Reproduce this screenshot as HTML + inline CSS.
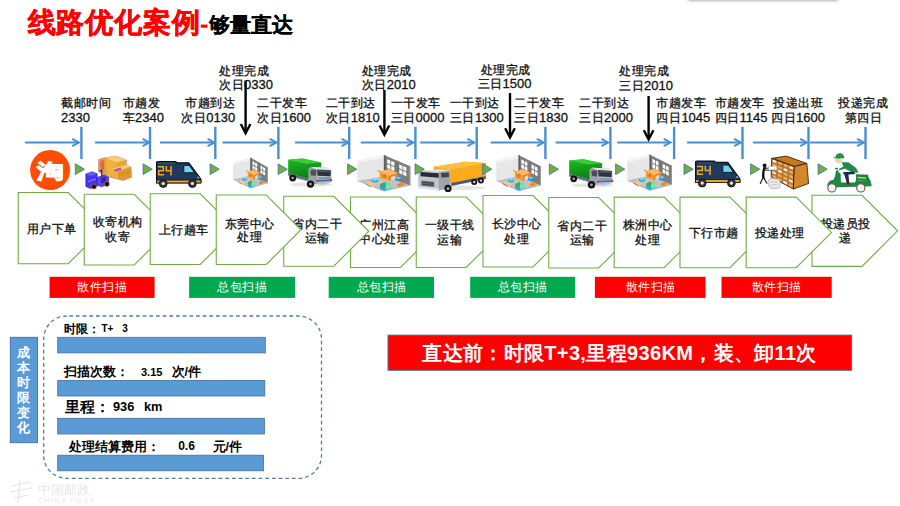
<!DOCTYPE html>
<html><head><meta charset="utf-8"><style>
html,body{margin:0;padding:0;background:#fff;}
body{width:900px;height:506px;position:relative;overflow:hidden;font-family:"Liberation Sans", sans-serif;}
.t1{position:absolute;left:27px;top:3px;font-size:28px;font-weight:bold;color:#ff0000;white-space:nowrap;line-height:40px;}
.t1 span{font-size:22px;color:#000;}
.t1 b{color:#ff0000;font-size:22px;}
.shadow{position:absolute;left:688px;top:-12px;width:150px;height:12px;box-shadow:0 0.5px 3px rgba(0,0,0,0.4);background:#fff;}
svg{position:absolute;left:0;top:0;}
svg text{font-family:"Liberation Sans", sans-serif;}
</style></head><body>
<div class="shadow"></div>
<svg width="900" height="506" viewBox="0 0 900 506">
<text x="27.6" y="32" letter-spacing="0.9" font-size="28.4" font-weight="bold" fill="#ff0000" stroke="#ff0000" stroke-width="0.5">线路优化案例</text><rect x="200.8" y="24.6" width="6.7" height="3.1" fill="#ff0000"/><text x="209" y="32" font-size="21.3" font-weight="bold" fill="#000" stroke="#000" stroke-width="0.2">够量直达</text><line x1="25" y1="142.5" x2="78.5" y2="142.5" stroke="#4a8fd0" stroke-width="1.9"/><path d="M72.1,138.8 L79,142.5 L72.1,146.2" fill="none" stroke="#4a8fd0" stroke-width="1.9" stroke-linejoin="miter"/><line x1="95" y1="142.5" x2="149.0" y2="142.5" stroke="#4a8fd0" stroke-width="1.9"/><path d="M142.6,138.8 L149.5,142.5 L142.6,146.2" fill="none" stroke="#4a8fd0" stroke-width="1.9" stroke-linejoin="miter"/><line x1="160" y1="142.5" x2="214.0" y2="142.5" stroke="#4a8fd0" stroke-width="1.9"/><path d="M207.6,138.8 L214.5,142.5 L207.6,146.2" fill="none" stroke="#4a8fd0" stroke-width="1.9" stroke-linejoin="miter"/><line x1="222.5" y1="142.5" x2="276.0" y2="142.5" stroke="#4a8fd0" stroke-width="1.9"/><path d="M269.6,138.8 L276.5,142.5 L269.6,146.2" fill="none" stroke="#4a8fd0" stroke-width="1.9" stroke-linejoin="miter"/><line x1="295" y1="142.5" x2="348.0" y2="142.5" stroke="#4a8fd0" stroke-width="1.9"/><path d="M341.6,138.8 L348.5,142.5 L341.6,146.2" fill="none" stroke="#4a8fd0" stroke-width="1.9" stroke-linejoin="miter"/><line x1="360.8" y1="142.5" x2="413.0" y2="142.5" stroke="#4a8fd0" stroke-width="1.9"/><path d="M406.6,138.8 L413.5,142.5 L406.6,146.2" fill="none" stroke="#4a8fd0" stroke-width="1.9" stroke-linejoin="miter"/><line x1="420.2" y1="142.5" x2="473.8" y2="142.5" stroke="#4a8fd0" stroke-width="1.9"/><path d="M467.40000000000003,138.8 L474.3,142.5 L467.40000000000003,146.2" fill="none" stroke="#4a8fd0" stroke-width="1.9" stroke-linejoin="miter"/><line x1="490.6" y1="142.5" x2="543.3" y2="142.5" stroke="#4a8fd0" stroke-width="1.9"/><path d="M536.9,138.8 L543.8,142.5 L536.9,146.2" fill="none" stroke="#4a8fd0" stroke-width="1.9" stroke-linejoin="miter"/><line x1="555.6" y1="142.5" x2="607.8" y2="142.5" stroke="#4a8fd0" stroke-width="1.9"/><path d="M601.4,138.8 L608.3,142.5 L601.4,146.2" fill="none" stroke="#4a8fd0" stroke-width="1.9" stroke-linejoin="miter"/><line x1="617.3" y1="142.5" x2="670.1" y2="142.5" stroke="#4a8fd0" stroke-width="1.9"/><path d="M663.7,138.8 L670.6,142.5 L663.7,146.2" fill="none" stroke="#4a8fd0" stroke-width="1.9" stroke-linejoin="miter"/><line x1="687" y1="142.5" x2="740.5" y2="142.5" stroke="#4a8fd0" stroke-width="1.9"/><path d="M734.1,138.8 L741,142.5 L734.1,146.2" fill="none" stroke="#4a8fd0" stroke-width="1.9" stroke-linejoin="miter"/><line x1="753" y1="142.5" x2="806.5" y2="142.5" stroke="#4a8fd0" stroke-width="1.9"/><path d="M800.1,138.8 L807,142.5 L800.1,146.2" fill="none" stroke="#4a8fd0" stroke-width="1.9" stroke-linejoin="miter"/><line x1="810" y1="142.5" x2="863.5" y2="142.5" stroke="#4a8fd0" stroke-width="1.9"/><path d="M857.1,138.8 L864,142.5 L857.1,146.2" fill="none" stroke="#4a8fd0" stroke-width="1.9" stroke-linejoin="miter"/><line x1="81.4" y1="126.8" x2="81.4" y2="159.1" stroke="#4a8fd0" stroke-width="2.4"/><line x1="150" y1="126.8" x2="150" y2="159.1" stroke="#4a8fd0" stroke-width="2.4"/><line x1="215.3" y1="126.8" x2="215.3" y2="159.1" stroke="#4a8fd0" stroke-width="2.4"/><line x1="278.4" y1="126.8" x2="278.4" y2="159.1" stroke="#4a8fd0" stroke-width="2.4"/><line x1="349.2" y1="126.8" x2="349.2" y2="159.1" stroke="#4a8fd0" stroke-width="2.4"/><line x1="415.4" y1="126.8" x2="415.4" y2="159.1" stroke="#4a8fd0" stroke-width="2.4"/><line x1="476.7" y1="126.8" x2="476.7" y2="159.1" stroke="#4a8fd0" stroke-width="2.4"/><line x1="545.4" y1="126.8" x2="545.4" y2="159.1" stroke="#4a8fd0" stroke-width="2.4"/><line x1="610.4" y1="126.8" x2="610.4" y2="159.1" stroke="#4a8fd0" stroke-width="2.4"/><line x1="674.1" y1="126.8" x2="674.1" y2="159.1" stroke="#4a8fd0" stroke-width="2.4"/><line x1="742.5" y1="126.8" x2="742.5" y2="159.1" stroke="#4a8fd0" stroke-width="2.4"/><line x1="808.5" y1="126.8" x2="808.5" y2="159.1" stroke="#4a8fd0" stroke-width="2.4"/><line x1="865.5" y1="126.8" x2="865.5" y2="159.1" stroke="#4a8fd0" stroke-width="2.4"/><line x1="245.6" y1="80.5" x2="245.6" y2="132.2" stroke="#000" stroke-width="2.4"/><path d="M240.79999999999998,123.99999999999999 L245.6,133.2 L250.4,123.99999999999999" fill="none" stroke="#000" stroke-width="2.4"/><line x1="384.4" y1="90" x2="384.4" y2="133.7" stroke="#000" stroke-width="2.4"/><path d="M379.59999999999997,125.49999999999999 L384.4,134.7 L389.2,125.49999999999999" fill="none" stroke="#000" stroke-width="2.4"/><line x1="510" y1="93" x2="510" y2="136.5" stroke="#000" stroke-width="2.4"/><path d="M505.2,128.3 L510,137.5 L514.8,128.3" fill="none" stroke="#000" stroke-width="2.4"/><line x1="648.6" y1="96" x2="648.6" y2="138.5" stroke="#000" stroke-width="2.4"/><path d="M643.8000000000001,130.3 L648.6,139.5 L653.4,130.3" fill="none" stroke="#000" stroke-width="2.4"/><text x="61" y="107.4" text-anchor="start" fill="#111" stroke="#111" stroke-width="0.3" font-weight="normal"><tspan font-size="12" letter-spacing="0.5">截邮时间</tspan></text><text x="61" y="121.9" text-anchor="start" fill="#111" stroke="#111" stroke-width="0.3" font-weight="normal"><tspan font-size="13">2330</tspan></text><text x="122.6" y="107.4" text-anchor="start" fill="#111" stroke="#111" stroke-width="0.3" font-weight="normal"><tspan font-size="12" letter-spacing="0.5">市趟发</tspan></text><text x="122.6" y="121.9" text-anchor="start" fill="#111" stroke="#111" stroke-width="0.3" font-weight="normal"><tspan font-size="12" letter-spacing="0.5">车</tspan><tspan font-size="13">2340</tspan></text><text x="185" y="107.4" text-anchor="start" fill="#111" stroke="#111" stroke-width="0.3" font-weight="normal"><tspan font-size="12" letter-spacing="0.5">市趟到达</tspan></text><text x="181.3" y="121.9" text-anchor="start" fill="#111" stroke="#111" stroke-width="0.3" font-weight="normal"><tspan font-size="12" letter-spacing="0.5">次日</tspan><tspan font-size="13">0130</tspan></text><text x="219.1" y="74.9" text-anchor="start" fill="#111" stroke="#111" stroke-width="0.3" font-weight="normal"><tspan font-size="12" letter-spacing="0.5">处理完成</tspan></text><text x="219.1" y="89.2" text-anchor="start" fill="#111" stroke="#111" stroke-width="0.3" font-weight="normal"><tspan font-size="12" letter-spacing="0.5">次日</tspan><tspan font-size="13">0330</tspan></text><text x="257" y="107.4" text-anchor="start" fill="#111" stroke="#111" stroke-width="0.3" font-weight="normal"><tspan font-size="12" letter-spacing="0.5">二干发车</tspan></text><text x="257" y="121.9" text-anchor="start" fill="#111" stroke="#111" stroke-width="0.3" font-weight="normal"><tspan font-size="12" letter-spacing="0.5">次日</tspan><tspan font-size="13">1600</tspan></text><text x="325.7" y="107.4" text-anchor="start" fill="#111" stroke="#111" stroke-width="0.3" font-weight="normal"><tspan font-size="12" letter-spacing="0.5">二干到达</tspan></text><text x="325.7" y="121.9" text-anchor="start" fill="#111" stroke="#111" stroke-width="0.3" font-weight="normal"><tspan font-size="12" letter-spacing="0.5">次日</tspan><tspan font-size="13">1810</tspan></text><text x="361.7" y="75.2" text-anchor="start" fill="#111" stroke="#111" stroke-width="0.3" font-weight="normal"><tspan font-size="12" letter-spacing="0.5">处理完成</tspan></text><text x="361.7" y="89.4" text-anchor="start" fill="#111" stroke="#111" stroke-width="0.3" font-weight="normal"><tspan font-size="12" letter-spacing="0.5">次日</tspan><tspan font-size="13">2010</tspan></text><text x="390.5" y="107.4" text-anchor="start" fill="#111" stroke="#111" stroke-width="0.3" font-weight="normal"><tspan font-size="12" letter-spacing="0.5">一干发车</tspan></text><text x="390.5" y="121.9" text-anchor="start" fill="#111" stroke="#111" stroke-width="0.3" font-weight="normal"><tspan font-size="12" letter-spacing="0.5">三日</tspan><tspan font-size="13">0000</tspan></text><text x="449.9" y="107.4" text-anchor="start" fill="#111" stroke="#111" stroke-width="0.3" font-weight="normal"><tspan font-size="12" letter-spacing="0.5">一干到达</tspan></text><text x="449.9" y="121.9" text-anchor="start" fill="#111" stroke="#111" stroke-width="0.3" font-weight="normal"><tspan font-size="12" letter-spacing="0.5">三日</tspan><tspan font-size="13">1300</tspan></text><text x="480.9" y="74.4" text-anchor="start" fill="#111" stroke="#111" stroke-width="0.3" font-weight="normal"><tspan font-size="12" letter-spacing="0.5">处理完成</tspan></text><text x="477.6" y="88.30000000000001" text-anchor="start" fill="#111" stroke="#111" stroke-width="0.3" font-weight="normal"><tspan font-size="12" letter-spacing="0.5">三日</tspan><tspan font-size="13">1500</tspan></text><text x="514" y="107.4" text-anchor="start" fill="#111" stroke="#111" stroke-width="0.3" font-weight="normal"><tspan font-size="12" letter-spacing="0.5">二干发车</tspan></text><text x="514" y="121.9" text-anchor="start" fill="#111" stroke="#111" stroke-width="0.3" font-weight="normal"><tspan font-size="12" letter-spacing="0.5">三日</tspan><tspan font-size="13">1830</tspan></text><text x="579" y="107.4" text-anchor="start" fill="#111" stroke="#111" stroke-width="0.3" font-weight="normal"><tspan font-size="12" letter-spacing="0.5">二干到达</tspan></text><text x="579" y="121.9" text-anchor="start" fill="#111" stroke="#111" stroke-width="0.3" font-weight="normal"><tspan font-size="12" letter-spacing="0.5">三日</tspan><tspan font-size="13">2000</tspan></text><text x="619.1" y="74.9" text-anchor="start" fill="#111" stroke="#111" stroke-width="0.3" font-weight="normal"><tspan font-size="12" letter-spacing="0.5">处理完成</tspan></text><text x="619.1" y="89.9" text-anchor="start" fill="#111" stroke="#111" stroke-width="0.3" font-weight="normal"><tspan font-size="12" letter-spacing="0.5">三日</tspan><tspan font-size="13">2010</tspan></text><text x="656.4" y="107.4" text-anchor="start" fill="#111" stroke="#111" stroke-width="0.3" font-weight="normal"><tspan font-size="12" letter-spacing="0.5">市趟发车</tspan></text><text x="656.4" y="121.9" text-anchor="start" fill="#111" stroke="#111" stroke-width="0.3" font-weight="normal"><tspan font-size="12" letter-spacing="0.5">四日</tspan><tspan font-size="13">1045</tspan></text><text x="714.6" y="107.4" text-anchor="start" fill="#111" stroke="#111" stroke-width="0.3" font-weight="normal"><tspan font-size="12" letter-spacing="0.5">市趟发车</tspan></text><text x="714.6" y="121.9" text-anchor="start" fill="#111" stroke="#111" stroke-width="0.3" font-weight="normal"><tspan font-size="12" letter-spacing="0.5">四日</tspan><tspan font-size="13">1145</tspan></text><text x="773.4" y="107.4" text-anchor="start" fill="#111" stroke="#111" stroke-width="0.3" font-weight="normal"><tspan font-size="12" letter-spacing="0.5">投递出班</tspan></text><text x="771" y="121.9" text-anchor="start" fill="#111" stroke="#111" stroke-width="0.3" font-weight="normal"><tspan font-size="12" letter-spacing="0.5">四日</tspan><tspan font-size="13">1600</tspan></text><text x="838" y="107.4" text-anchor="start" fill="#111" stroke="#111" stroke-width="0.3" font-weight="normal"><tspan font-size="12" letter-spacing="0.5">投递完成</tspan></text><text x="844.5" y="121.9" text-anchor="start" fill="#111" stroke="#111" stroke-width="0.3" font-weight="normal"><tspan font-size="12" letter-spacing="0.5">第四日</tspan></text><g>
<path d="M98.6,159.5 L105.7,157.5 L116,156.3 L126.3,159.9 L126.3,165 L131,167 L131.4,177.3 L123.1,180.5 L107.3,176.5 L98.6,171.8 Z" fill="#eeb23c" stroke="#a070e0" stroke-width="0.6"/>
<path d="M105.7,157.5 L116,156.3 L126.3,159.9 L116.5,162.5 Z" fill="#f8cf70"/>
<path d="M116.5,162.5 L126.3,159.9 L126.3,165 L116.5,168Z" fill="#e8a633"/>
<path d="M112,168.8 L126.3,165 L131,167 L118,171 Z" fill="#f8cf70"/>
<path d="M118,171 L131,167 L131.4,177.3 L123.1,180.5 L118,178.8Z" fill="#dd9a2a"/>
<path d="M118,174.5 L131.2,171.5" stroke="#c08020" stroke-width="0.6"/>
<path d="M98.6,159.5 L105.7,157.5 L107.3,176.5 L98.6,171.8Z" fill="#e9a038"/>
<path d="M100.3,161 L104,160 L104.5,170 L100.6,168.5Z" fill="#e06a40"/>
<path d="M114.5,169.2 L121,167.5 L121,170 L114.5,171.8Z" fill="#cc40cc"/>
<path d="M85.8,174 L92,171.8 L97.2,173.8 L97.2,186.2 L90.5,188.6 L85.8,186.4 Z" fill="#4736ee" stroke="#2a1aa8" stroke-width="0.6"/>
<path d="M85.8,174 L92,171.8 L97.2,173.8 L91,176Z" fill="#6b5cf8"/>
<path d="M97.2,177.5 L104,175 L108.6,177.3 L108.6,184 L101.5,186.8 L97.2,185.2 Z" fill="#5646f2" stroke="#2a1aa8" stroke-width="0.6"/>
<path d="M99.5,171 L101.8,170.2 L101.8,177" stroke="#2a1aa8" stroke-width="1.3" fill="none"/>
<path d="M101,178 L106,176.5 L106,182 L101,183.5Z" fill="#3a2a90"/>
<path d="M88,181.5 L96,179" stroke="#c8a0ff" stroke-width="0.8"/>
<circle cx="93.9" cy="186.6" r="2.5" fill="#111" stroke="#e08040" stroke-width="0.6"/>
<circle cx="106.9" cy="184" r="2.5" fill="#111" stroke="#e08040" stroke-width="0.6"/>
</g><g transform="translate(156,161.2)">
<path d="M0.6,1.2 Q0.6,0.3 1.6,0.3 H19.4 L21,1.6 H32.8 L44.3,17.2 Q44.9,18 44.9,19 V21.6 H0.6 Z" fill="#1f3a5e" stroke="#0a0f18" stroke-width="1.2" stroke-linejoin="round"/>
<path d="M28.4,4.3 H33.4 L38.6,11.6 H28.9 Q27.8,11.6 27.8,10.5 V5 Q27.8,4.3 28.4,4.3Z" fill="#6fd3f3" stroke="#0a0f18" stroke-width="0.9"/>
<rect x="0.6" y="18.9" width="44.3" height="2.8" fill="#f5a623" stroke="#0a0f18" stroke-width="0.7"/>
<path d="M41.2,15.2 L43.2,16 L43.3,17.4 L41.3,16.8Z" fill="#6fd3f3"/>
<path d="M2,2.2 H17" stroke="#3c5a80" stroke-width="0.8"/>
<path d="M1.9,4.9 h6.2 v1.5 h-6.2zM6.6,4.9 h1.5 v4.7 h-1.5zM1.9,8.850000000000001 h6.2 v1.5 h-6.2zM1.9,9.600000000000001 h1.5 v4.7 h-1.5zM1.9,12.8 h6.2 v1.5 h-6.2zM9.6,4.9 h1.5 v4.7 h-1.5zM9.6,8.850000000000001 h6.2 v1.5 h-6.2zM14.3,4.9 h1.5 v4.7 h-1.5zM14.3,9.600000000000001 h1.5 v4.7 h-1.5z" fill="#f5a623"/>
<circle cx="7.2" cy="22.3" r="3.9" fill="#3a3a3a" stroke="#0a0a0a" stroke-width="0.9"/><circle cx="7.2" cy="22.3" r="1.6" fill="#e8e8e8"/>
<circle cx="36.4" cy="22.3" r="3.9" fill="#3a3a3a" stroke="#0a0a0a" stroke-width="0.9"/><circle cx="36.4" cy="22.3" r="1.6" fill="#e8e8e8"/>
</g><g transform="translate(233,157.6) scale(0.6559546313799622,0.8387978142076502)">
<path d="M0,5.5 L26.5,0 L26.5,21.5 L0,26.2 Z" fill="#e7e7e7"/>
<path d="M0,5.5 L26.5,0 L26.5,3 L0,8 Z" fill="#f3f3f3"/>
<path d="M26.5,0 L52.9,11.4 L52.9,30.7 L26.5,21.5 Z" fill="#7d7d7d"/>
<path d="M26.5,0 L28.2,0.7 L28.2,22 L26.5,21.5Z" fill="#5f5f5f"/>
<path d="M39.5,5.6 L40.3,6 L40.3,26 L39.5,25.7Z" fill="#666"/>
<path d="M51.8,10.9 L52.9,11.4 L52.9,30.7 L51.8,30.3Z" fill="#9a9a9a"/>
<path d="M29.80,4.30 l3.1,1.33 v3.9 l-3.1,-1.33z M29.80,9.30 l3.1,1.33 v3.9 l-3.1,-1.33z M33.80,6.02 l3.1,1.33 v3.9 l-3.1,-1.33z M33.80,11.02 l3.1,1.33 v3.9 l-3.1,-1.33z  M41.90,9.50 l3.1,1.33 v3.9 l-3.1,-1.33z M41.90,14.50 l3.1,1.33 v3.9 l-3.1,-1.33z M45.90,11.22 l3.1,1.33 v3.9 l-3.1,-1.33z M45.90,16.22 l3.1,1.33 v3.9 l-3.1,-1.33z " fill="#ffffff"/>
<path d="M0,26.2 L26.5,21.5 L52.9,30.7 L26.5,36.6 Z" fill="#b3b3b3"/>
<path d="M2,26.5 L26.5,22.3 L50,30.5 L26.5,35.3 Z" fill="#c2c2c2"/>
<path d="M7.9,28.6 L19,24.3 L25.2,26.8 L13.5,31.7 Z" fill="#f6c88e"/>
<path d="M7.9,28.6 L13.5,31.7 L13.5,32.3 L7.9,29.2Z" fill="#6a5030"/>
<path d="M22.3,17.2 L31,14.4 L40.6,18 L40.6,22.8 L31.8,26.2 L22.3,22.8 Z" fill="#f39a2b"/>
<path d="M22.3,17.2 L31,14.4 L40.6,18 L31.8,21 Z" fill="#f9b866"/>
<path d="M31.8,21 L40.6,18 L40.6,22.8 L31.8,26.2Z" fill="#e0821c"/>
<path d="M20,15.5 L24,17.5" stroke="#f39a2b" stroke-width="1.2"/>
<circle cx="27" cy="21" r="2" fill="#e07a20"/>
<path d="M33.5,22 L38,20.5 L38,24.5 L33.5,26 Z" fill="#d9d9d9"/>
<path d="M13.9,24.6 L17.6,23.3 L21.3,24.6 L21.3,27 L17.6,28.2 L13.9,27Z" fill="#35b2ee"/>
<path d="M13.9,24.6 L17.6,23.3 L21.3,24.6 L17.6,25.8Z" fill="#8fdcff"/>
<path d="M38.1,23.1 L41,21.8 L44,23.1 L44,25.2 L41,26.2 L38.1,25.2Z" fill="#1e9be0"/>
<path d="M38.1,23.1 L41,21.8 L44,23.1 L41,24.2Z" fill="#7fd2ff"/>
<path d="M39.6,29.5 L44,27.7 L46.6,28.8 L46.6,30.2 L42,31.8 L39.6,30.8Z" fill="#f2861e"/>
<path d="M22.8,29 L28.2,27.2 L34.1,29 L34.1,34.4 L28.4,36.1 L22.8,34.4Z" fill="#5fd0f5"/>
<path d="M22.8,29 L28.4,30.8 L28.4,36.1 L22.8,34.4Z" fill="#3aa0e0"/>
<path d="M22.8,29 L28.2,27.2 L28.2,31.3 L22.8,32.5Z" fill="#3cb043"/>
<path d="M28.4,30.8 L34.1,29 L34.1,32 L28.4,33.5Z" fill="#9be37a"/>
</g><g transform="translate(288.2,158.5)">
<defs><linearGradient id="gt288" x1="0" y1="0" x2="0.3" y2="1"><stop offset="0" stop-color="#22bb22"/><stop offset="1" stop-color="#0a7f14"/></linearGradient></defs>
<ellipse cx="23" cy="26" rx="21" ry="2.2" fill="#000" opacity="0.10"/>
<path d="M0,1.3 L14.2,0 L33,4 L33,12 L21.4,20.5 L0,14.7 Z" fill="url(#gt288)"/>
<path d="M0,1.3 L14.2,0 L33,4 L18,5.2Z" fill="#3acb3a"/>
<path d="M0,14.7 L21.4,20.5 L21.4,23.2 L0,17.4 Z" fill="#4b5b72"/>
<path d="M0,16.3 L21.4,22 L21.4,23.2 L0,17.4 Z" fill="#8d9bb0"/>
<path d="M20.5,10.2 L23.1,8.5 L40,9.3 L43.1,12 L43.6,23.6 L35.6,26.2 L20.5,24.9 Z" fill="#b9bfc7"/><path d="M20.5,10.2 L23.1,8.5 L28.5,9 L28.5,25.5 L20.5,24.9Z" fill="#9aa2ac"/>
<path d="M23.1,8.5 L40,9.3 L43.1,12 L28,11 Z" fill="#e4e7ea"/>
<path d="M28.9,10.9 L42.7,11.8 L42.4,17.8 L29.4,17.3 Z" fill="#2c333b"/>
<path d="M30,11.5 L42,12.2 L41.8,13.8 L30,13.2Z" fill="#50585f"/>
<path d="M22.2,11.6 L28,11.1 L28,17.3 L22.7,16.9 Z" fill="#4a5058"/>
<path d="M28.6,21.5 L43.6,20.8 L43.6,22.6 L28.6,23.3 Z" fill="#3d6fb8"/>
<path d="M29.4,19 L42.5,18.6 L42.5,20.4 L29.4,20.8 Z" fill="#8a9099"/>
<circle cx="28.9" cy="22.4" r="0.9" fill="#e02020"/><circle cx="43.2" cy="21.6" r="0.9" fill="#e02020"/>
<circle cx="4.5" cy="19.6" r="3.4" fill="#141414"/><circle cx="4.5" cy="19.6" r="1.3" fill="#a0a0a0"/>
<circle cx="22.3" cy="25.6" r="3.7" fill="#141414"/><circle cx="22.3" cy="25.6" r="1.4" fill="#a0a0a0"/>
</g><g transform="translate(357.4,154.9) scale(1,1)">
<path d="M0,5.5 L26.5,0 L26.5,21.5 L0,26.2 Z" fill="#e7e7e7"/>
<path d="M0,5.5 L26.5,0 L26.5,3 L0,8 Z" fill="#f3f3f3"/>
<path d="M26.5,0 L52.9,11.4 L52.9,30.7 L26.5,21.5 Z" fill="#7d7d7d"/>
<path d="M26.5,0 L28.2,0.7 L28.2,22 L26.5,21.5Z" fill="#5f5f5f"/>
<path d="M39.5,5.6 L40.3,6 L40.3,26 L39.5,25.7Z" fill="#666"/>
<path d="M51.8,10.9 L52.9,11.4 L52.9,30.7 L51.8,30.3Z" fill="#9a9a9a"/>
<path d="M29.80,4.30 l3.1,1.33 v3.9 l-3.1,-1.33z M29.80,9.30 l3.1,1.33 v3.9 l-3.1,-1.33z M33.80,6.02 l3.1,1.33 v3.9 l-3.1,-1.33z M33.80,11.02 l3.1,1.33 v3.9 l-3.1,-1.33z  M41.90,9.50 l3.1,1.33 v3.9 l-3.1,-1.33z M41.90,14.50 l3.1,1.33 v3.9 l-3.1,-1.33z M45.90,11.22 l3.1,1.33 v3.9 l-3.1,-1.33z M45.90,16.22 l3.1,1.33 v3.9 l-3.1,-1.33z " fill="#ffffff"/>
<path d="M0,26.2 L26.5,21.5 L52.9,30.7 L26.5,36.6 Z" fill="#b3b3b3"/>
<path d="M2,26.5 L26.5,22.3 L50,30.5 L26.5,35.3 Z" fill="#c2c2c2"/>
<path d="M7.9,28.6 L19,24.3 L25.2,26.8 L13.5,31.7 Z" fill="#f6c88e"/>
<path d="M7.9,28.6 L13.5,31.7 L13.5,32.3 L7.9,29.2Z" fill="#6a5030"/>
<path d="M22.3,17.2 L31,14.4 L40.6,18 L40.6,22.8 L31.8,26.2 L22.3,22.8 Z" fill="#f39a2b"/>
<path d="M22.3,17.2 L31,14.4 L40.6,18 L31.8,21 Z" fill="#f9b866"/>
<path d="M31.8,21 L40.6,18 L40.6,22.8 L31.8,26.2Z" fill="#e0821c"/>
<path d="M20,15.5 L24,17.5" stroke="#f39a2b" stroke-width="1.2"/>
<circle cx="27" cy="21" r="2" fill="#e07a20"/>
<path d="M33.5,22 L38,20.5 L38,24.5 L33.5,26 Z" fill="#d9d9d9"/>
<path d="M13.9,24.6 L17.6,23.3 L21.3,24.6 L21.3,27 L17.6,28.2 L13.9,27Z" fill="#35b2ee"/>
<path d="M13.9,24.6 L17.6,23.3 L21.3,24.6 L17.6,25.8Z" fill="#8fdcff"/>
<path d="M38.1,23.1 L41,21.8 L44,23.1 L44,25.2 L41,26.2 L38.1,25.2Z" fill="#1e9be0"/>
<path d="M38.1,23.1 L41,21.8 L44,23.1 L41,24.2Z" fill="#7fd2ff"/>
<path d="M39.6,29.5 L44,27.7 L46.6,28.8 L46.6,30.2 L42,31.8 L39.6,30.8Z" fill="#f2861e"/>
<path d="M22.8,29 L28.2,27.2 L34.1,29 L34.1,34.4 L28.4,36.1 L22.8,34.4Z" fill="#5fd0f5"/>
<path d="M22.8,29 L28.4,30.8 L28.4,36.1 L22.8,34.4Z" fill="#3aa0e0"/>
<path d="M22.8,29 L28.2,27.2 L28.2,31.3 L22.8,32.5Z" fill="#3cb043"/>
<path d="M28.4,30.8 L34.1,29 L34.1,32 L28.4,33.5Z" fill="#9be37a"/>
</g><g transform="translate(417.8,161.8)">
<ellipse cx="36" cy="26" rx="32" ry="2.5" fill="#000" opacity="0.10"/>
<path d="M16,4.9 L47.5,0 L68,1.3 L68,14.2 L33.3,21.3 L16,18 Z" fill="#f9a816"/>
<path d="M16,4.9 L47.5,0 L68,1.3 L32.4,8.5 Z" fill="#ffbe45"/>
<path d="M32.4,8.5 L68,1.3 L68,14.2 L33.3,21.3 Z" fill="#fbaa1a"/>
<path d="M33.3,21.3 L68,14.2 L68,17.2 L33.3,24.3 Z" fill="#4d5a6e"/>
<path d="M0.4,10.5 L2.2,8.4 L23.6,7.6 L32.4,9.3 L32.4,25.8 L20.9,28.6 L0.4,25.5 Z" fill="#c2c7ce"/>
<path d="M2.2,8.4 L23.6,7.6 L32.4,9.3 L21,10 Z" fill="#e6e9ec"/>
<path d="M21,10 L32.4,9.3 L32.4,25.8 L20.9,28.6Z" fill="#9ea5ae"/>
<path d="M2.7,10.2 L20.9,11.4 L20.9,16 L2.7,14.4 Z" fill="#252b31"/>
<path d="M23.1,11.1 L31.1,10.7 L31.1,15.1 L23.6,15.6 Z" fill="#3e454d"/>
<path d="M3.6,18.7 L16.4,20 L16.4,25.3 L3.6,24 Z" fill="#6a7078"/><path d="M4,20.5 L16,21.6 M4,22.3 L16,23.4" stroke="#2a2e33" stroke-width="0.7"/>
<path d="M0.4,24.5 L20.9,26.8 L20.9,28.6 L0.4,26.5 Z" fill="#dfe3e7"/>
<circle cx="30.2" cy="26.6" r="3.6" fill="#141414"/><circle cx="30.2" cy="26.6" r="1.5" fill="#a0a0a0"/>
<circle cx="56.4" cy="20.2" r="3" fill="#141414"/><circle cx="56.4" cy="20.2" r="1.2" fill="#d0d0d0"/>
<circle cx="63.1" cy="18.8" r="3" fill="#141414"/><circle cx="63.1" cy="18.8" r="1.2" fill="#d0d0d0"/>
</g><g transform="translate(496.2,155.1) scale(0.8431001890359169,0.9863387978142076)">
<path d="M0,5.5 L26.5,0 L26.5,21.5 L0,26.2 Z" fill="#e7e7e7"/>
<path d="M0,5.5 L26.5,0 L26.5,3 L0,8 Z" fill="#f3f3f3"/>
<path d="M26.5,0 L52.9,11.4 L52.9,30.7 L26.5,21.5 Z" fill="#7d7d7d"/>
<path d="M26.5,0 L28.2,0.7 L28.2,22 L26.5,21.5Z" fill="#5f5f5f"/>
<path d="M39.5,5.6 L40.3,6 L40.3,26 L39.5,25.7Z" fill="#666"/>
<path d="M51.8,10.9 L52.9,11.4 L52.9,30.7 L51.8,30.3Z" fill="#9a9a9a"/>
<path d="M29.80,4.30 l3.1,1.33 v3.9 l-3.1,-1.33z M29.80,9.30 l3.1,1.33 v3.9 l-3.1,-1.33z M33.80,6.02 l3.1,1.33 v3.9 l-3.1,-1.33z M33.80,11.02 l3.1,1.33 v3.9 l-3.1,-1.33z  M41.90,9.50 l3.1,1.33 v3.9 l-3.1,-1.33z M41.90,14.50 l3.1,1.33 v3.9 l-3.1,-1.33z M45.90,11.22 l3.1,1.33 v3.9 l-3.1,-1.33z M45.90,16.22 l3.1,1.33 v3.9 l-3.1,-1.33z " fill="#ffffff"/>
<path d="M0,26.2 L26.5,21.5 L52.9,30.7 L26.5,36.6 Z" fill="#b3b3b3"/>
<path d="M2,26.5 L26.5,22.3 L50,30.5 L26.5,35.3 Z" fill="#c2c2c2"/>
<path d="M7.9,28.6 L19,24.3 L25.2,26.8 L13.5,31.7 Z" fill="#f6c88e"/>
<path d="M7.9,28.6 L13.5,31.7 L13.5,32.3 L7.9,29.2Z" fill="#6a5030"/>
<path d="M22.3,17.2 L31,14.4 L40.6,18 L40.6,22.8 L31.8,26.2 L22.3,22.8 Z" fill="#f39a2b"/>
<path d="M22.3,17.2 L31,14.4 L40.6,18 L31.8,21 Z" fill="#f9b866"/>
<path d="M31.8,21 L40.6,18 L40.6,22.8 L31.8,26.2Z" fill="#e0821c"/>
<path d="M20,15.5 L24,17.5" stroke="#f39a2b" stroke-width="1.2"/>
<circle cx="27" cy="21" r="2" fill="#e07a20"/>
<path d="M33.5,22 L38,20.5 L38,24.5 L33.5,26 Z" fill="#d9d9d9"/>
<path d="M13.9,24.6 L17.6,23.3 L21.3,24.6 L21.3,27 L17.6,28.2 L13.9,27Z" fill="#35b2ee"/>
<path d="M13.9,24.6 L17.6,23.3 L21.3,24.6 L17.6,25.8Z" fill="#8fdcff"/>
<path d="M38.1,23.1 L41,21.8 L44,23.1 L44,25.2 L41,26.2 L38.1,25.2Z" fill="#1e9be0"/>
<path d="M38.1,23.1 L41,21.8 L44,23.1 L41,24.2Z" fill="#7fd2ff"/>
<path d="M39.6,29.5 L44,27.7 L46.6,28.8 L46.6,30.2 L42,31.8 L39.6,30.8Z" fill="#f2861e"/>
<path d="M22.8,29 L28.2,27.2 L34.1,29 L34.1,34.4 L28.4,36.1 L22.8,34.4Z" fill="#5fd0f5"/>
<path d="M22.8,29 L28.4,30.8 L28.4,36.1 L22.8,34.4Z" fill="#3aa0e0"/>
<path d="M22.8,29 L28.2,27.2 L28.2,31.3 L22.8,32.5Z" fill="#3cb043"/>
<path d="M28.4,30.8 L34.1,29 L34.1,32 L28.4,33.5Z" fill="#9be37a"/>
</g><g transform="translate(569.2,159.2)">
<defs><linearGradient id="gt569" x1="0" y1="0" x2="0.3" y2="1"><stop offset="0" stop-color="#22bb22"/><stop offset="1" stop-color="#0a7f14"/></linearGradient></defs>
<ellipse cx="23" cy="26" rx="21" ry="2.2" fill="#000" opacity="0.10"/>
<path d="M0,1.3 L14.2,0 L33,4 L33,12 L21.4,20.5 L0,14.7 Z" fill="url(#gt569)"/>
<path d="M0,1.3 L14.2,0 L33,4 L18,5.2Z" fill="#3acb3a"/>
<path d="M0,14.7 L21.4,20.5 L21.4,23.2 L0,17.4 Z" fill="#4b5b72"/>
<path d="M0,16.3 L21.4,22 L21.4,23.2 L0,17.4 Z" fill="#8d9bb0"/>
<path d="M20.5,10.2 L23.1,8.5 L40,9.3 L43.1,12 L43.6,23.6 L35.6,26.2 L20.5,24.9 Z" fill="#b9bfc7"/><path d="M20.5,10.2 L23.1,8.5 L28.5,9 L28.5,25.5 L20.5,24.9Z" fill="#9aa2ac"/>
<path d="M23.1,8.5 L40,9.3 L43.1,12 L28,11 Z" fill="#e4e7ea"/>
<path d="M28.9,10.9 L42.7,11.8 L42.4,17.8 L29.4,17.3 Z" fill="#2c333b"/>
<path d="M30,11.5 L42,12.2 L41.8,13.8 L30,13.2Z" fill="#50585f"/>
<path d="M22.2,11.6 L28,11.1 L28,17.3 L22.7,16.9 Z" fill="#4a5058"/>
<path d="M28.6,21.5 L43.6,20.8 L43.6,22.6 L28.6,23.3 Z" fill="#3d6fb8"/>
<path d="M29.4,19 L42.5,18.6 L42.5,20.4 L29.4,20.8 Z" fill="#8a9099"/>
<circle cx="28.9" cy="22.4" r="0.9" fill="#e02020"/><circle cx="43.2" cy="21.6" r="0.9" fill="#e02020"/>
<circle cx="4.5" cy="19.6" r="3.4" fill="#141414"/><circle cx="4.5" cy="19.6" r="1.3" fill="#a0a0a0"/>
<circle cx="22.3" cy="25.6" r="3.7" fill="#141414"/><circle cx="22.3" cy="25.6" r="1.4" fill="#a0a0a0"/>
</g><g transform="translate(627.1,154.6) scale(0.8487712665406427,0.9863387978142076)">
<path d="M0,5.5 L26.5,0 L26.5,21.5 L0,26.2 Z" fill="#e7e7e7"/>
<path d="M0,5.5 L26.5,0 L26.5,3 L0,8 Z" fill="#f3f3f3"/>
<path d="M26.5,0 L52.9,11.4 L52.9,30.7 L26.5,21.5 Z" fill="#7d7d7d"/>
<path d="M26.5,0 L28.2,0.7 L28.2,22 L26.5,21.5Z" fill="#5f5f5f"/>
<path d="M39.5,5.6 L40.3,6 L40.3,26 L39.5,25.7Z" fill="#666"/>
<path d="M51.8,10.9 L52.9,11.4 L52.9,30.7 L51.8,30.3Z" fill="#9a9a9a"/>
<path d="M29.80,4.30 l3.1,1.33 v3.9 l-3.1,-1.33z M29.80,9.30 l3.1,1.33 v3.9 l-3.1,-1.33z M33.80,6.02 l3.1,1.33 v3.9 l-3.1,-1.33z M33.80,11.02 l3.1,1.33 v3.9 l-3.1,-1.33z  M41.90,9.50 l3.1,1.33 v3.9 l-3.1,-1.33z M41.90,14.50 l3.1,1.33 v3.9 l-3.1,-1.33z M45.90,11.22 l3.1,1.33 v3.9 l-3.1,-1.33z M45.90,16.22 l3.1,1.33 v3.9 l-3.1,-1.33z " fill="#ffffff"/>
<path d="M0,26.2 L26.5,21.5 L52.9,30.7 L26.5,36.6 Z" fill="#b3b3b3"/>
<path d="M2,26.5 L26.5,22.3 L50,30.5 L26.5,35.3 Z" fill="#c2c2c2"/>
<path d="M7.9,28.6 L19,24.3 L25.2,26.8 L13.5,31.7 Z" fill="#f6c88e"/>
<path d="M7.9,28.6 L13.5,31.7 L13.5,32.3 L7.9,29.2Z" fill="#6a5030"/>
<path d="M22.3,17.2 L31,14.4 L40.6,18 L40.6,22.8 L31.8,26.2 L22.3,22.8 Z" fill="#f39a2b"/>
<path d="M22.3,17.2 L31,14.4 L40.6,18 L31.8,21 Z" fill="#f9b866"/>
<path d="M31.8,21 L40.6,18 L40.6,22.8 L31.8,26.2Z" fill="#e0821c"/>
<path d="M20,15.5 L24,17.5" stroke="#f39a2b" stroke-width="1.2"/>
<circle cx="27" cy="21" r="2" fill="#e07a20"/>
<path d="M33.5,22 L38,20.5 L38,24.5 L33.5,26 Z" fill="#d9d9d9"/>
<path d="M13.9,24.6 L17.6,23.3 L21.3,24.6 L21.3,27 L17.6,28.2 L13.9,27Z" fill="#35b2ee"/>
<path d="M13.9,24.6 L17.6,23.3 L21.3,24.6 L17.6,25.8Z" fill="#8fdcff"/>
<path d="M38.1,23.1 L41,21.8 L44,23.1 L44,25.2 L41,26.2 L38.1,25.2Z" fill="#1e9be0"/>
<path d="M38.1,23.1 L41,21.8 L44,23.1 L41,24.2Z" fill="#7fd2ff"/>
<path d="M39.6,29.5 L44,27.7 L46.6,28.8 L46.6,30.2 L42,31.8 L39.6,30.8Z" fill="#f2861e"/>
<path d="M22.8,29 L28.2,27.2 L34.1,29 L34.1,34.4 L28.4,36.1 L22.8,34.4Z" fill="#5fd0f5"/>
<path d="M22.8,29 L28.4,30.8 L28.4,36.1 L22.8,34.4Z" fill="#3aa0e0"/>
<path d="M22.8,29 L28.2,27.2 L28.2,31.3 L22.8,32.5Z" fill="#3cb043"/>
<path d="M28.4,30.8 L34.1,29 L34.1,32 L28.4,33.5Z" fill="#9be37a"/>
</g><g transform="translate(695,160.8)">
<path d="M0.6,1.2 Q0.6,0.3 1.6,0.3 H19.4 L21,1.6 H32.8 L44.3,17.2 Q44.9,18 44.9,19 V21.6 H0.6 Z" fill="#1f3a5e" stroke="#0a0f18" stroke-width="1.2" stroke-linejoin="round"/>
<path d="M28.4,4.3 H33.4 L38.6,11.6 H28.9 Q27.8,11.6 27.8,10.5 V5 Q27.8,4.3 28.4,4.3Z" fill="#6fd3f3" stroke="#0a0f18" stroke-width="0.9"/>
<rect x="0.6" y="18.9" width="44.3" height="2.8" fill="#f5a623" stroke="#0a0f18" stroke-width="0.7"/>
<path d="M41.2,15.2 L43.2,16 L43.3,17.4 L41.3,16.8Z" fill="#6fd3f3"/>
<path d="M2,2.2 H17" stroke="#3c5a80" stroke-width="0.8"/>
<path d="M1.9,4.9 h6.2 v1.5 h-6.2zM6.6,4.9 h1.5 v4.7 h-1.5zM1.9,8.850000000000001 h6.2 v1.5 h-6.2zM1.9,9.600000000000001 h1.5 v4.7 h-1.5zM1.9,12.8 h6.2 v1.5 h-6.2zM9.6,4.9 h1.5 v4.7 h-1.5zM9.6,8.850000000000001 h6.2 v1.5 h-6.2zM14.3,4.9 h1.5 v4.7 h-1.5zM14.3,9.600000000000001 h1.5 v4.7 h-1.5z" fill="#f5a623"/>
<circle cx="7.2" cy="22.3" r="3.9" fill="#3a3a3a" stroke="#0a0a0a" stroke-width="0.9"/><circle cx="7.2" cy="22.3" r="1.6" fill="#e8e8e8"/>
<circle cx="36.4" cy="22.3" r="3.9" fill="#3a3a3a" stroke="#0a0a0a" stroke-width="0.9"/><circle cx="36.4" cy="22.3" r="1.6" fill="#e8e8e8"/>
</g><g>
<path d="M771.7,158.3 L786.4,156.1 L806.9,163.5 L794.3,166.5 Z" fill="#c27a22" stroke="#2a1800" stroke-width="0.8" stroke-linejoin="round"/>
<path d="M771.7,158.3 L794.3,166.5 L793.4,189.1 L771.2,177 Z" fill="#b8752a" stroke="#2a1800" stroke-width="0.8" stroke-linejoin="round"/>
<path d="M772.58,159.57 L776.42,161.00 L776.35,163.15 L772.52,161.64Z" fill="#f7efe0"/><path d="M772.48,163.34 L776.30,164.90 L776.24,167.05 L772.42,165.42Z" fill="#e6b06a"/><path d="M772.37,167.11 L776.18,168.81 L776.12,170.95 L772.32,169.19Z" fill="#e6b06a"/><path d="M772.27,170.88 L776.07,172.71 L776.00,174.86 L772.21,172.96Z" fill="#f7efe0"/><path d="M772.17,174.66 L775.95,176.61 L775.89,178.76 L772.11,176.73Z" fill="#e6b06a"/><path d="M778.22,161.67 L782.06,163.10 L781.99,165.35 L778.16,163.85Z" fill="#e6b06a"/><path d="M778.10,165.64 L781.92,167.20 L781.85,169.45 L778.03,167.82Z" fill="#e6b06a"/><path d="M777.98,169.60 L781.79,171.29 L781.71,173.55 L777.91,171.78Z" fill="#f7efe0"/><path d="M777.85,173.57 L781.65,175.39 L781.58,177.65 L777.79,175.75Z" fill="#e6b06a"/><path d="M777.73,177.53 L781.51,179.49 L781.44,181.75 L777.66,179.72Z" fill="#e6b06a"/><path d="M783.87,163.77 L787.71,165.20 L787.62,167.56 L783.79,166.06Z" fill="#e6b06a"/><path d="M783.73,167.93 L787.55,169.49 L787.46,171.85 L783.65,170.22Z" fill="#f7efe0"/><path d="M783.58,172.09 L787.39,173.78 L787.31,176.14 L783.50,174.38Z" fill="#e6b06a"/><path d="M783.44,176.25 L787.24,178.08 L787.15,180.44 L783.36,178.54Z" fill="#e6b06a"/><path d="M783.30,180.41 L787.08,182.37 L786.99,184.73 L783.22,182.70Z" fill="#f7efe0"/><path d="M789.51,165.87 L793.35,167.29 L793.25,169.76 L789.42,168.26Z" fill="#f7efe0"/><path d="M789.35,170.22 L793.17,171.78 L793.08,174.25 L789.26,172.62Z" fill="#e6b06a"/><path d="M789.19,174.58 L793.00,176.27 L792.90,178.74 L789.10,176.98Z" fill="#e6b06a"/><path d="M789.02,178.94 L792.82,180.76 L792.72,183.23 L788.93,181.33Z" fill="#f7efe0"/><path d="M788.86,183.29 L792.64,185.25 L792.55,187.72 L788.77,185.69Z" fill="#e6b06a"/>
<path d="M794.3,166.5 L806.9,163.5 L808.6,183.5 L793.4,189.1 Z" fill="#d4872a" stroke="#2a1800" stroke-width="0.8" stroke-linejoin="round"/>
<circle cx="764.6" cy="165.3" r="1.9" fill="#111"/>
<path d="M764.8,167 Q762.6,172 763.4,177.5" stroke="#111" stroke-width="2.4" fill="none" stroke-linecap="round"/><path d="M763.4,177 L760.3,183.4 M763.4,177 L766.8,183.2" stroke="#111" stroke-width="1.1" fill="none" stroke-linecap="round"/>
<path d="M764.5,168.5 L773,167.5 M764.5,170 L772.5,170.5" stroke="#111" stroke-width="0.9" fill="none"/>
<path d="M768,166.5 L776.5,165.8 L777.5,169.5 L769,170.5Z" fill="#f4f4f4" stroke="#888" stroke-width="0.4"/>
<path d="M767.8,182 Q768.5,178.5 772,178.3 L778,179 Q780.5,180 780.3,183.5 L779.5,187.5 Q776,189.2 771,188.3 Q767.5,187 767.8,182Z" fill="#e9e9e9" stroke="#9a9a9a" stroke-width="0.6"/>
<path d="M770,182 L778,181.5 M770.5,185 L777.5,184.3" stroke="#aaa" stroke-width="0.5"/>
</g><g>
<path d="M827.4,184.6 Q828.5,180.5 833.5,179.8 Q835.6,176 836,171 L838.6,168.8 L840.8,169.4 Q840.4,176.5 841,182.6 L855,182.6 Q856.5,177.8 858,175.5 L868,176.6 Q871.2,180.5 871.8,186.2 L865.6,186.4 Q861,183.6 856.4,186.8 L836.6,187.2 Q832,183.6 827.4,186.2Z" fill="#1b8a40"/>
<path d="M835.4,168.6 L840.8,168" stroke="#1b8a40" stroke-width="1.4" stroke-linecap="round"/>
<path d="M856,174.2 L868.2,174.8 L868.4,182.4 L856.2,182 Z" fill="#1a7f3c"/>
<path d="M857.6,177.6 L866,178" stroke="#c8dc3c" stroke-width="1.5"/>
<path d="M857.4,180.6 L866.6,180.9" stroke="#5fbf8a" stroke-width="0.7"/>
<circle cx="831.9" cy="187.9" r="4.1" fill="#f4f4f6" stroke="#6b5445" stroke-width="1.1"/>
<circle cx="860.8" cy="187.9" r="4.1" fill="#f4f4f6" stroke="#6b5445" stroke-width="1.1"/>
<path d="M837,162.6 L842.6,162.2 L846,171.6 L842.4,175 L838.4,172Z" fill="#ffffff"/>
<path d="M841.8,162.2 L848.5,162.2 L856.1,168 L858.5,172.7 L853.2,172.4 L846.5,169.5 L843.7,167.4 Z" fill="#1e8d47"/>
<path d="M844.5,166 L838.8,169 L839.6,170.4 L846.4,168Z" fill="#1e8d47"/>
<path d="M842.6,172.2 L853.4,171.6 L855.4,174 L848.4,174.6 L849.4,184.4 L847.2,184.8 L844.6,175.2 Z" fill="#1a2a55"/>
<path d="M846.6,184.2 L851.2,184.4 L850.8,185.6 L846.2,185.3Z" fill="#7a4a2a"/>
<path d="M834.6,158 Q834.2,162.8 838.6,163.4 Q842.4,163.4 842.3,158.4Z" fill="#f6d2ad"/>
<path d="M835.4,157.8 Q835.6,153 840.4,153.2 Q844.6,153.8 844.2,158.6 L840,158 Z M833.6,157.3 L840.2,157.9 L839.8,158.8 L833.4,158.1Z" fill="#1e9146"/>
</g><circle cx="50.1" cy="170.1" r="20" fill="#ff4d06"/>
<g transform="translate(49.7,170.1) scale(1.15,0.86)"><text x="0" y="9" text-anchor="middle" font-size="23" font-weight="bold" fill="#fff" stroke="#fff" stroke-width="1.1">淘</text></g><path d="M75.3,163.79999999999998 L84.5,169.2 L75.3,174.6 Z" fill="#70ad47" stroke="#3f6f9c" stroke-width="0.8" stroke-linejoin="miter"/><path d="M143.1,163.79999999999998 L152.3,169.2 L143.1,174.6 Z" fill="#70ad47" stroke="#3f6f9c" stroke-width="0.8" stroke-linejoin="miter"/><path d="M210.1,163.79999999999998 L219.3,169.2 L210.1,174.6 Z" fill="#70ad47" stroke="#3f6f9c" stroke-width="0.8" stroke-linejoin="miter"/><path d="M278.1,163.79999999999998 L287.3,169.2 L278.1,174.6 Z" fill="#70ad47" stroke="#3f6f9c" stroke-width="0.8" stroke-linejoin="miter"/><path d="M347.6,163.79999999999998 L356.8,169.2 L347.6,174.6 Z" fill="#70ad47" stroke="#3f6f9c" stroke-width="0.8" stroke-linejoin="miter"/><path d="M415.1,163.79999999999998 L424.3,169.2 L415.1,174.6 Z" fill="#70ad47" stroke="#3f6f9c" stroke-width="0.8" stroke-linejoin="miter"/><path d="M482.6,163.79999999999998 L491.8,169.2 L482.6,174.6 Z" fill="#70ad47" stroke="#3f6f9c" stroke-width="0.8" stroke-linejoin="miter"/><path d="M549.3000000000001,163.79999999999998 L558.5,169.2 L549.3000000000001,174.6 Z" fill="#70ad47" stroke="#3f6f9c" stroke-width="0.8" stroke-linejoin="miter"/><path d="M615.6,163.79999999999998 L624.8,169.2 L615.6,174.6 Z" fill="#70ad47" stroke="#3f6f9c" stroke-width="0.8" stroke-linejoin="miter"/><path d="M684.0,163.79999999999998 L693.1999999999999,169.2 L684.0,174.6 Z" fill="#70ad47" stroke="#3f6f9c" stroke-width="0.8" stroke-linejoin="miter"/><path d="M750.6,163.79999999999998 L759.8,169.2 L750.6,174.6 Z" fill="#70ad47" stroke="#3f6f9c" stroke-width="0.8" stroke-linejoin="miter"/><path d="M818.1,163.79999999999998 L827.3,169.2 L818.1,174.6 Z" fill="#70ad47" stroke="#3f6f9c" stroke-width="0.8" stroke-linejoin="miter"/><path d="M18.25,192.5 L68.25,192.5 L103.875,228.125 L68.25,263.75 L18.25,263.75 Z" fill="#fff" stroke="#70ad47" stroke-width="1.1"/><text x="51.95" y="232.65" text-anchor="middle" fill="#111" stroke="#111" stroke-width="0.3" font-weight="normal"><tspan font-size="12" letter-spacing="0.5">用户下单</tspan></text><path d="M84.25,194.25 L134.25,194.25 L169.625,229.625 L134.25,265 L84.25,265 Z" fill="#fff" stroke="#70ad47" stroke-width="1.1"/><text x="117.95" y="226.4" text-anchor="middle" fill="#111" stroke="#111" stroke-width="0.3" font-weight="normal"><tspan font-size="12" letter-spacing="0.5">收寄机构</tspan></text><text x="117.95" y="240.9" text-anchor="middle" fill="#111" stroke="#111" stroke-width="0.3" font-weight="normal"><tspan font-size="12" letter-spacing="0.5">收寄</tspan></text><path d="M150.25,193.75 L200.25,193.75 L235.625,229.125 L200.25,264.5 L150.25,264.5 Z" fill="#fff" stroke="#70ad47" stroke-width="1.1"/><text x="183.95" y="233.9" text-anchor="middle" fill="#111" stroke="#111" stroke-width="0.3" font-weight="normal"><tspan font-size="12" letter-spacing="0.5">上行趟车</tspan></text><path d="M350.5,197 L400.5,197 L435.75,232.25 L400.5,267.5 L350.5,267.5 Z" fill="#fff" stroke="#70ad47" stroke-width="1.1"/><text x="384.2" y="228.9" text-anchor="middle" fill="#111" stroke="#111" stroke-width="0.3" font-weight="normal"><tspan font-size="12" letter-spacing="0.5">广州江高</tspan></text><text x="384.2" y="243.4" text-anchor="middle" fill="#111" stroke="#111" stroke-width="0.3" font-weight="normal"><tspan font-size="12" letter-spacing="0.5">中心处理</tspan></text><path d="M283.75,196.25 L333.75,196.25 L368.75,231.25 L333.75,266.25 L283.75,266.25 Z" fill="#fff" stroke="#70ad47" stroke-width="1.1"/><text x="317.45" y="227.65" text-anchor="middle" fill="#111" stroke="#111" stroke-width="0.3" font-weight="normal"><tspan font-size="12" letter-spacing="0.5">省内二干</tspan></text><text x="317.45" y="241.9" text-anchor="middle" fill="#111" stroke="#111" stroke-width="0.3" font-weight="normal"><tspan font-size="12" letter-spacing="0.5">运输</tspan></text><path d="M216.25,195 L266.25,195 L301.0,229.75 L266.25,264.5 L216.25,264.5 Z" fill="#fff" stroke="#70ad47" stroke-width="1.1"/><text x="249.95" y="227.65" text-anchor="middle" fill="#111" stroke="#111" stroke-width="0.3" font-weight="normal"><tspan font-size="12" letter-spacing="0.5">东莞中心</tspan></text><text x="249.95" y="241.4" text-anchor="middle" fill="#111" stroke="#111" stroke-width="0.3" font-weight="normal"><tspan font-size="12" letter-spacing="0.5">处理</tspan></text><path d="M416.25,197 L466.25,197 L501.5,232.25 L466.25,267.5 L416.25,267.5 Z" fill="#fff" stroke="#70ad47" stroke-width="1.1"/><text x="449.95" y="228.9" text-anchor="middle" fill="#111" stroke="#111" stroke-width="0.3" font-weight="normal"><tspan font-size="12" letter-spacing="0.5">一级干线</tspan></text><text x="449.95" y="243.9" text-anchor="middle" fill="#111" stroke="#111" stroke-width="0.3" font-weight="normal"><tspan font-size="12" letter-spacing="0.5">运输</tspan></text><path d="M483,195.5 L533,195.5 L568.75,231.25 L533,267 L483,267 Z" fill="#fff" stroke="#70ad47" stroke-width="1.1"/><text x="516.7" y="228.4" text-anchor="middle" fill="#111" stroke="#111" stroke-width="0.3" font-weight="normal"><tspan font-size="12" letter-spacing="0.5">长沙中心</tspan></text><text x="516.7" y="242.65" text-anchor="middle" fill="#111" stroke="#111" stroke-width="0.3" font-weight="normal"><tspan font-size="12" letter-spacing="0.5">处理</tspan></text><path d="M548.75,197.5 L598.75,197.5 L634.0,232.75 L598.75,268 L548.75,268 Z" fill="#fff" stroke="#70ad47" stroke-width="1.1"/><text x="582.45" y="230.15" text-anchor="middle" fill="#111" stroke="#111" stroke-width="0.3" font-weight="normal"><tspan font-size="12" letter-spacing="0.5">省内二干</tspan></text><text x="582.45" y="244.4" text-anchor="middle" fill="#111" stroke="#111" stroke-width="0.3" font-weight="normal"><tspan font-size="12" letter-spacing="0.5">运输</tspan></text><path d="M614.2,197.1 L664.2,197.1 L699.5,232.39999999999998 L664.2,267.7 L614.2,267.7 Z" fill="#fff" stroke="#70ad47" stroke-width="1.1"/><text x="647.9000000000001" y="228.9" text-anchor="middle" fill="#111" stroke="#111" stroke-width="0.3" font-weight="normal"><tspan font-size="12" letter-spacing="0.5">株洲中心</tspan></text><text x="647.9000000000001" y="244.1" text-anchor="middle" fill="#111" stroke="#111" stroke-width="0.3" font-weight="normal"><tspan font-size="12" letter-spacing="0.5">处理</tspan></text><path d="M812,195.3 L862,195.3 L897.55,230.85 L862,266.4 L812,266.4 Z" fill="#fff" stroke="#70ad47" stroke-width="1.1"/><text x="845.7" y="227.70000000000002" text-anchor="middle" fill="#111" stroke="#111" stroke-width="0.3" font-weight="normal"><tspan font-size="12" letter-spacing="0.5">投递员投</tspan></text><text x="845.7" y="242.20000000000002" text-anchor="middle" fill="#111" stroke="#111" stroke-width="0.3" font-weight="normal"><tspan font-size="12" letter-spacing="0.5">递</tspan></text><path d="M680,197.1 L730,197.1 L765.3,232.39999999999998 L730,267.7 L680,267.7 Z" fill="#fff" stroke="#70ad47" stroke-width="1.1"/><text x="713.7" y="236.9" text-anchor="middle" fill="#111" stroke="#111" stroke-width="0.3" font-weight="normal"><tspan font-size="12" letter-spacing="0.5">下行市趟</tspan></text><path d="M746.2,197.1 L796.2,197.1 L831.5,232.39999999999998 L796.2,267.7 L746.2,267.7 Z" fill="#fff" stroke="#70ad47" stroke-width="1.1"/><text x="779.9000000000001" y="236.5" text-anchor="middle" fill="#111" stroke="#111" stroke-width="0.3" font-weight="normal"><tspan font-size="12" letter-spacing="0.5">投递处理</tspan></text><rect x="49.6" y="276.8" width="105.0" height="21.1" fill="#ff0000"/><text x="102.39999999999999" y="290.5" text-anchor="middle" fill="#fff" stroke="#fff" stroke-width="0" font-weight="normal"><tspan font-size="12" letter-spacing="0.5">散件扫描</tspan></text><rect x="189.1" y="276.8" width="105.9" height="21.1" fill="#00a84f"/><text x="242.35000000000002" y="290.5" text-anchor="middle" fill="#fff" stroke="#fff" stroke-width="0" font-weight="normal"><tspan font-size="12" letter-spacing="0.5">总包扫描</tspan></text><rect x="328.7" y="276.8" width="105.30000000000001" height="21.1" fill="#00a84f"/><text x="381.65000000000003" y="290.5" text-anchor="middle" fill="#fff" stroke="#fff" stroke-width="0" font-weight="normal"><tspan font-size="12" letter-spacing="0.5">总包扫描</tspan></text><rect x="470.2" y="276.8" width="104.90000000000003" height="21.1" fill="#00a84f"/><text x="522.9499999999999" y="290.5" text-anchor="middle" fill="#fff" stroke="#fff" stroke-width="0" font-weight="normal"><tspan font-size="12" letter-spacing="0.5">总包扫描</tspan></text><rect x="594.9" y="276.8" width="110.60000000000002" height="21.1" fill="#ff0000"/><text x="650.5" y="290.5" text-anchor="middle" fill="#fff" stroke="#fff" stroke-width="0" font-weight="normal"><tspan font-size="12" letter-spacing="0.5">散件扫描</tspan></text><rect x="721.5" y="276.8" width="110.20000000000005" height="21.1" fill="#ff0000"/><text x="776.9" y="290.5" text-anchor="middle" fill="#fff" stroke="#fff" stroke-width="0" font-weight="normal"><tspan font-size="12" letter-spacing="0.5">散件扫描</tspan></text><rect x="43.7" y="316" width="277.8" height="162.4" rx="23" ry="23" fill="none" stroke="#4f7cac" stroke-width="1.3" stroke-dasharray="3.7 2.97" stroke-dashoffset="4.07"/><rect x="10.3" y="337.3" width="27.2" height="105.4" fill="#5b9bd5" stroke="#41719c" stroke-width="0.9"/><text x="23.8" y="356.6" text-anchor="middle" font-size="13" font-weight="bold" fill="#fff">成</text><text x="23.8" y="371.70000000000005" text-anchor="middle" font-size="13" font-weight="bold" fill="#fff">本</text><text x="23.8" y="386.8" text-anchor="middle" font-size="13" font-weight="bold" fill="#fff">时</text><text x="23.8" y="401.90000000000003" text-anchor="middle" font-size="13" font-weight="bold" fill="#fff">限</text><text x="23.8" y="417.0" text-anchor="middle" font-size="13" font-weight="bold" fill="#fff">变</text><text x="23.8" y="432.1" text-anchor="middle" font-size="13" font-weight="bold" fill="#fff">化</text><rect x="57.7" y="337.3" width="207.60000000000002" height="15.599999999999966" fill="#5b9bd5" stroke="#41719c" stroke-width="0.8"/><rect x="57.7" y="380.4" width="207.10000000000002" height="15.600000000000023" fill="#5b9bd5" stroke="#41719c" stroke-width="0.8"/><rect x="57.7" y="418.3" width="206.7" height="15.699999999999989" fill="#5b9bd5" stroke="#41719c" stroke-width="0.8"/><rect x="57.7" y="455.2" width="205.90000000000003" height="15.600000000000023" fill="#5b9bd5" stroke="#41719c" stroke-width="0.8"/><text x="64" y="333" font-size="12" font-weight="bold" fill="#000">时限：</text><text x="101.5" y="332.2" font-size="10" font-weight="bold" fill="#000">T+</text><text x="122.2" y="332.2" font-size="10" font-weight="bold" fill="#000">3</text><text x="64" y="376" font-size="12.5" font-weight="bold" fill="#000">扫描次数：</text><text x="141" y="375.7" font-size="11" font-weight="bold" fill="#000">3.15</text><text x="171.5" y="376" font-size="12.5" font-weight="bold" fill="#000">次/件</text><text x="64.5" y="411.5" font-size="15" font-weight="bold" fill="#000">里程：</text><text x="113" y="410.6" font-size="12.8" font-weight="bold" fill="#000">936</text><text x="144" y="410.6" font-size="12.8" font-weight="bold" fill="#000">km</text><text x="68.5" y="450.6" font-size="12.5" font-weight="bold" fill="#000">处理结算费用：</text><text x="178.2" y="450.2" font-size="12" font-weight="bold" fill="#000">0.6</text><text x="212.5" y="450.6" font-size="12.5" font-weight="bold" fill="#000">元/件</text><rect x="388" y="335.1" width="463.7" height="35.2" fill="#ff0000" stroke="#41719c" stroke-width="0.9"/><text x="619.5" y="359.5" text-anchor="middle" font-size="20" letter-spacing="0.35" font-weight="bold" fill="#fff">直达前：时限T+3,里程936KM，装、卸11次</text><g opacity="0.10"><text x="38" y="494" font-size="13" fill="#000">中国邮政</text><text x="38" y="503" font-size="7" fill="#000" letter-spacing="1.5">CHINA POST</text><path d="M12,486 L30,482 M10,492 L32,488 M14,498 L28,495 M20,480 L18,502" stroke="#000" stroke-width="1.2"/></g>
</svg>
</body></html>
